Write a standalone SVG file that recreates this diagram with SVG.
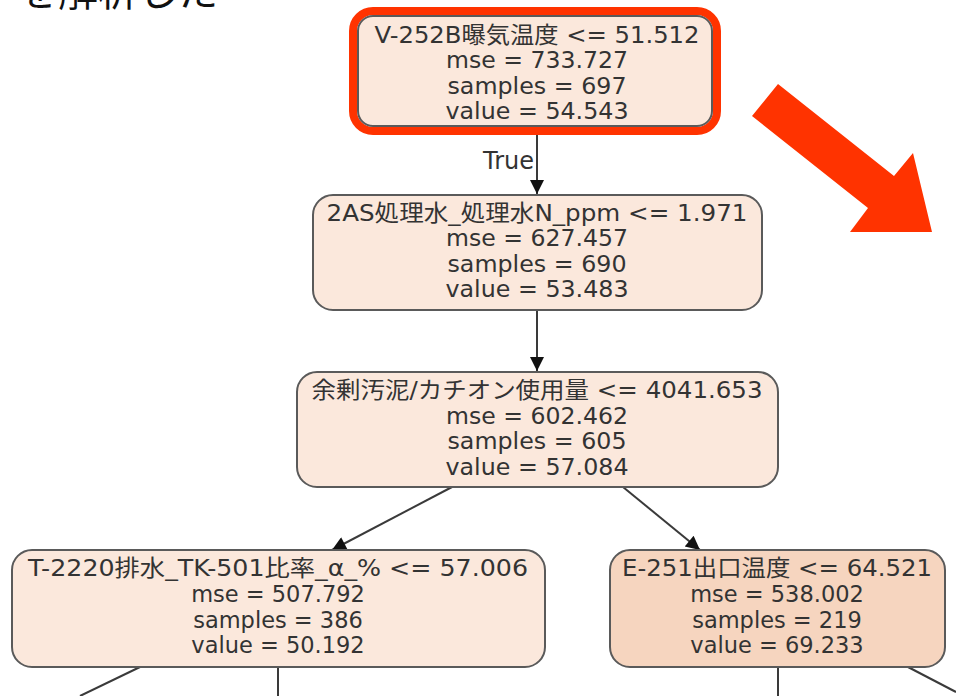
<svg xmlns="http://www.w3.org/2000/svg" width="956" height="696" viewBox="0 0 956 696">
  <style>
    .node { stroke: #5a5a5a; stroke-width: 2; }
    .light { fill: #fbe8dc; }
    .mid { fill: #f6d5bf; }
    .lbl { font-family: "DejaVu Sans", "Noto Sans CJK JP", sans-serif; font-size: 22.5px; fill: #333333; text-anchor: middle; }
    .edge { stroke: #3a3a3a; stroke-width: 2; fill: none; }
    .cap { font-family: "Noto Sans CJK JP", sans-serif; font-size: 40px; fill: #111; }
  </style>
  <defs>
    <marker id="headL" viewBox="0 0 10 10" refX="10" refY="5" markerWidth="16" markerHeight="14" markerUnits="userSpaceOnUse" orient="auto">
      <path d="M0,0 L10,5 L0,10 z" fill="#111"/>
    </marker>
  </defs>
  <rect width="956" height="696" fill="#ffffff"/>

  <!-- heading line, clipped at the top edge -->
  <text class="cap" x="18" y="6">を解析した</text>

  <!-- connectors -->
  <g id="edges">
    <line class="edge" x1="537" y1="130" x2="537" y2="194" marker-end="url(#headL)"/>
    <text x="534" y="169" style="font-family:'DejaVu Sans',sans-serif;font-size:24px;fill:#333333;text-anchor:end">True</text>
    <line class="edge" x1="537" y1="310" x2="537" y2="371" marker-end="url(#headL)"/>
    <line class="edge" x1="452" y1="487" x2="332" y2="550" marker-end="url(#headL)"/>
    <line class="edge" x1="623" y1="487" x2="700" y2="550" marker-end="url(#headL)"/>
    <line class="edge" x1="140" y1="667" x2="80" y2="696"/>
    <line class="edge" x1="278" y1="667" x2="278" y2="696"/>
    <line class="edge" x1="778" y1="667" x2="778" y2="696"/>
    <line class="edge" x1="908" y1="667" x2="956" y2="692"/>
  </g>

  <!-- root split, highlighted -->
  <g id="node-root">
    <rect x="353" y="11" width="364" height="120" rx="20" fill="none" stroke="#ff3300" stroke-width="8"/>
    <rect class="node light" x="358" y="16" width="354" height="110" rx="15"/>
    <text class="lbl" x="537" y="43" textLength="325" lengthAdjust="spacingAndGlyphs">V-252B曝気温度 &lt;= 51.512</text>
    <text class="lbl" x="537" y="68" textLength="182" lengthAdjust="spacingAndGlyphs">mse = 733.727</text>
    <text class="lbl" x="537" y="94" textLength="179" lengthAdjust="spacingAndGlyphs">samples = 697</text>
    <text class="lbl" x="537" y="119" textLength="183" lengthAdjust="spacingAndGlyphs">value = 54.543</text>
  </g>

  <g id="node-2as">
    <rect class="node light" x="313" y="195" width="449" height="115" rx="20"/>
    <text class="lbl" x="537" y="221" textLength="421" lengthAdjust="spacingAndGlyphs">2AS処理水_処理水N_ppm &lt;= 1.971</text>
    <text class="lbl" x="537" y="246" textLength="182" lengthAdjust="spacingAndGlyphs">mse = 627.457</text>
    <text class="lbl" x="537" y="272" textLength="179" lengthAdjust="spacingAndGlyphs">samples = 690</text>
    <text class="lbl" x="537" y="297" textLength="183" lengthAdjust="spacingAndGlyphs">value = 53.483</text>
  </g>

  <g id="node-sludge">
    <rect class="node light" x="297" y="372" width="481" height="115" rx="20"/>
    <text class="lbl" x="537" y="398" textLength="451" lengthAdjust="spacingAndGlyphs">余剰汚泥/カチオン使用量 &lt;= 4041.653</text>
    <text class="lbl" x="537" y="424" textLength="182" lengthAdjust="spacingAndGlyphs">mse = 602.462</text>
    <text class="lbl" x="537" y="449" textLength="179" lengthAdjust="spacingAndGlyphs">samples = 605</text>
    <text class="lbl" x="537" y="475" textLength="183" lengthAdjust="spacingAndGlyphs">value = 57.084</text>
  </g>

  <g id="node-t2220">
    <rect class="node light" x="12" y="550" width="533" height="117" rx="20"/>
    <text class="lbl" x="278" y="576" textLength="500" lengthAdjust="spacingAndGlyphs">T-2220排水_TK-501比率_α_% &lt;= 57.006</text>
    <text class="lbl" x="278" y="602">mse = 507.792</text>
    <text class="lbl" x="278" y="628">samples = 386</text>
    <text class="lbl" x="278" y="653">value = 50.192</text>
  </g>

  <g id="node-e251">
    <rect class="node mid" x="610" y="550" width="335" height="117" rx="20"/>
    <text class="lbl" x="777" y="576" textLength="310" lengthAdjust="spacingAndGlyphs">E-251出口温度 &lt;= 64.521</text>
    <text class="lbl" x="777" y="602">mse = 538.002</text>
    <text class="lbl" x="777" y="628">samples = 219</text>
    <text class="lbl" x="777" y="653">value = 69.233</text>
  </g>

  <!-- large pointer arrow -->
  <polygon points="778,84 752,116 868,208 850,232 932,232 913,153 894,176" fill="#ff3300"/>
</svg>
